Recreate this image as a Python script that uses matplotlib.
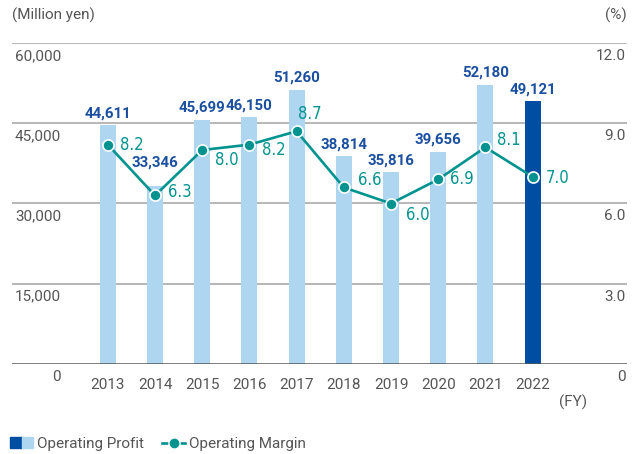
import matplotlib.pyplot as plt
import matplotlib.transforms as mtransforms
from matplotlib.lines import Line2D
from matplotlib.patches import Patch
from matplotlib.legend_handler import HandlerTuple

years = ["2013", "2014", "2015", "2016", "2017", "2018", "2019", "2020", "2021", "2022"]
profit = [44611, 33346, 45699, 46150, 51260, 38814, 35816, 39656, 52180, 49121]
margin = [8.2, 6.3, 8.0, 8.2, 8.7, 6.6, 6.0, 6.9, 8.1, 7.0]
left_ticks = [0, 15000, 30000, 45000, 60000]
right_ticks = [0, 3.0, 6.0, 9.0, 12.0]

LIGHT = "#aed6f1"
DARK = "#004ea2"
TEAL = "#00938f"
BLUE = "#1b4f9f"
GRAY = "#555555"
plt.rcParams["font.family"] = ["Roboto", "DejaVu Sans"]

# label nudges in pixels (style only)
profit_lift = [8, 19, 8, 8, 8, 8, 8, 8, 8, 8]
margin_shift = [(12, 0), (13, 3), (13, -10), (13, -5), (1, 17),
                (14, 7), (15, -12), (12, 0), (12, 7), (13, -1)]

W, H = 637, 454
fig = plt.figure(figsize=(W / 100, H / 100), dpi=100)
ax = fig.add_axes([12 / W, 90 / H, 615 / W, 321 / H])
ax2 = ax.twinx()

x = list(range(len(years)))
colors = [LIGHT] * (len(years) - 1) + [DARK]
ax.bar(x, profit, width=0.34, color=colors, zorder=2)
ax.set_xlim(-2.03, 11.0)
ax.set_ylim(0, 60000)
ax2.set_ylim(0, 12)

for t in left_ticks[1:]:
    ax.axhline(t, color="#aaaaaa", lw=1.2, zorder=1)
ax.axhline(0, color="#555555", lw=1.8, zorder=3)

for a in (ax, ax2):
    for s in a.spines.values():
        s.set_visible(False)
    a.set_yticks([])
ax.set_xticks(x, years)
ax.tick_params(axis="x", length=0, pad=10, labelsize=11, labelcolor=GRAY)

# y tick labels below their gridlines
ytr = mtransforms.offset_copy(ax.get_yaxis_transform(), fig=fig, x=0, y=-13, units="dots")
for t in left_ticks:
    ax.text(0.0797, t, f"{t:,}", transform=ytr, ha="right", va="center",
            fontsize=11, color=GRAY)
ytr2 = mtransforms.offset_copy(ax2.get_yaxis_transform(), fig=fig, x=0, y=-13, units="dots")
for t in right_ticks:
    lab = "0" if t == 0 else f"{t:.1f}"
    ax2.text(0.998, t, lab, transform=ytr2, ha="right", va="center",
             fontsize=11, color=GRAY)

for xi, v, lift in zip(x, profit, profit_lift):
    ax.annotate(f"{v:,}", (xi, v), xytext=(0, lift), textcoords="offset pixels",
                ha="center", va="baseline", fontsize=10.8, fontweight="bold",
                color=BLUE, zorder=5)

ax2.plot(x, margin, color=TEAL, lw=1.9, marker="o", markersize=8,
         markeredgecolor="white", markeredgewidth=1.2, zorder=4)
for xi, v, (dx, dy) in zip(x, margin, margin_shift):
    ax2.annotate(f"{v:.1f}", (xi, v), xytext=(dx, dy), textcoords="offset pixels",
                 ha="left", va="center", fontsize=12, fontstretch="condensed",
                 family=["DejaVu Sans"], color=TEAL, zorder=5)

fig.text(12 / W, 1 - 15 / H, "(Million yen)", ha="left", va="center", fontsize=11, color=GRAY)
fig.text(627 / W, 1 - 15 / H, "(%)", ha="right", va="center", fontsize=11, color=GRAY)
fig.text(573 / W, 1 - 402 / H, "(FY)", ha="center", va="center", fontsize=11, color=GRAY)

h_profit = (Patch(color=DARK), Patch(color=LIGHT))
h_margin = Line2D([], [], color=TEAL, lw=1.9, marker="o", markersize=8,
                  markeredgecolor="white", markeredgewidth=1)
fig.legend([h_profit, h_margin], ["Operating Profit", "Operating Margin"],
           handler_map={tuple: HandlerTuple(ndivide=None, pad=0)},
           loc="center left", bbox_to_anchor=(4 / W, 1 - 444 / H), ncol=2,
           frameon=False, fontsize=11, labelcolor=GRAY, handlelength=1.5,
           handletextpad=0.25, columnspacing=1.2, borderaxespad=0)

fig.savefig("out.png", dpi=100)
